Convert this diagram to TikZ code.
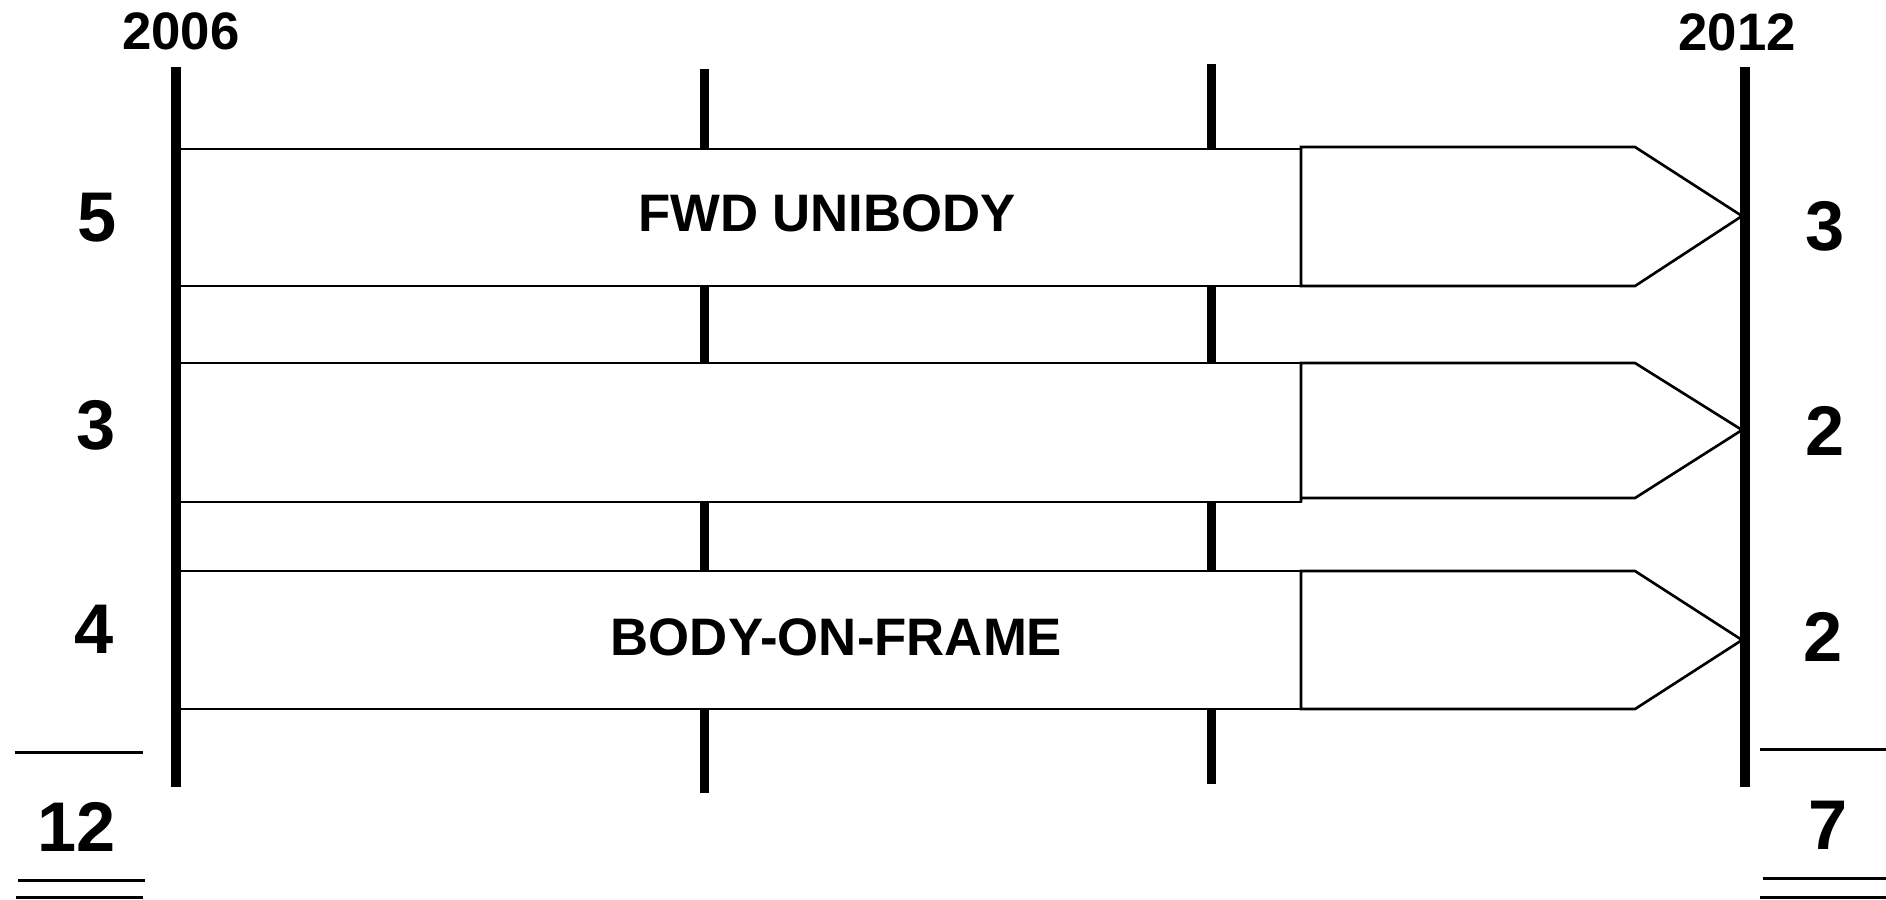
\documentclass[tikz,border=0pt]{standalone}
\usepackage{fontspec}
\setmainfont{Liberation Sans}
\begin{document}
\begin{tikzpicture}[x=0.01cm,y=-0.01cm,
  axis/.style={line width=2.6pt},
  thin/.style={line width=0.75pt},
  rowbox/.style={thin,fill=white},
  lbl/.style={inner sep=0pt,font=\fontsize{15pt}{18pt}\selectfont\bfseries},
  yr/.style={inner sep=0pt,font=\fontsize{15pt}{18pt}\selectfont\bfseries},
  cnt/.style={inner sep=0pt,font=\fontsize{20pt}{24pt}\selectfont\bfseries}]
\useasboundingbox[fill=white] (0,0) rectangle (1886,899);

% axis end points
\coordinate (a0t) at (176,67);   \coordinate (a0b) at (176,787);
\coordinate (a1t) at (704.5,69); \coordinate (a1b) at (704.5,793);
\coordinate (a2t) at (1211.5,64);\coordinate (a2b) at (1211.5,784);
\coordinate (a3t) at (1745,67);  \coordinate (a3b) at (1745,787);

% intermediate ticks (covered by the bars)
\draw[axis] (a1t) -- (a1b);
\draw[axis] (a2t) -- (a2b);

% bars: left block plus pointed right block
\draw[rowbox] (180,149) rectangle (1301,286);
\draw[rowbox] (1301,147) -- (1635,147) -- (1742,216) -- (1635,286) -- (1301,286) -- cycle;

\draw[rowbox] (180,363) rectangle (1301,502);
\draw[rowbox] (1301,363) -- (1635,363) -- (1742,430) -- (1635,498) -- (1301,498) -- (1301,502) -- cycle;

\draw[rowbox] (180,571) rectangle (1301,709);
\draw[rowbox] (1301,571) -- (1635,571) -- (1742,640) -- (1635,709) -- (1301,709) -- cycle;

% start and end axes
\draw[axis] (a0t) -- (a0b);
\draw[axis] (a3t) -- (a3b);

% years
\node[yr] (y0) at (181,31) {2006};
\node[yr] (y1) at (1737,32) {2012};

% bar labels
\node[lbl] (fwd) at (827,213) {FWD UNIBODY};
\node[lbl] (bof) at (836.5,637) {BODY-ON-FRAME};

% counts
\node[cnt] (l1) at (97,218) {5};
\node[cnt] (l2) at (96,425) {3};
\node[cnt] (l3) at (94,629) {4};
\node[cnt] (r1) at (1825,226) {3};
\node[cnt] (r2) at (1825,431) {2};
\node[cnt] (r3) at (1823,637) {2};
\node[cnt] (lt) at (77,827) {12};
\node[cnt] (rt) at (1828,825) {7};

% totals rules
\coordinate (ls1) at (15,752);  \coordinate (le1) at (143,752);
\coordinate (ls2) at (18,880);  \coordinate (le2) at (145,880);
\coordinate (ls3) at (16,897.5);\coordinate (le3) at (143,897.5);
\coordinate (rs1) at (1760,749);\coordinate (re1) at (1886,749);
\coordinate (rs2) at (1763,878);\coordinate (re2) at (1886,878);
\coordinate (rs3) at (1760,897);\coordinate (re3) at (1886,897);
\draw[thin,line width=0.85pt] (ls1) -- (le1) (ls2) -- (le2) (ls3) -- (le3);
\draw[thin,line width=0.85pt] (rs1) -- (re1) (rs2) -- (re2) (rs3) -- (re3);
\end{tikzpicture}
\end{document}
